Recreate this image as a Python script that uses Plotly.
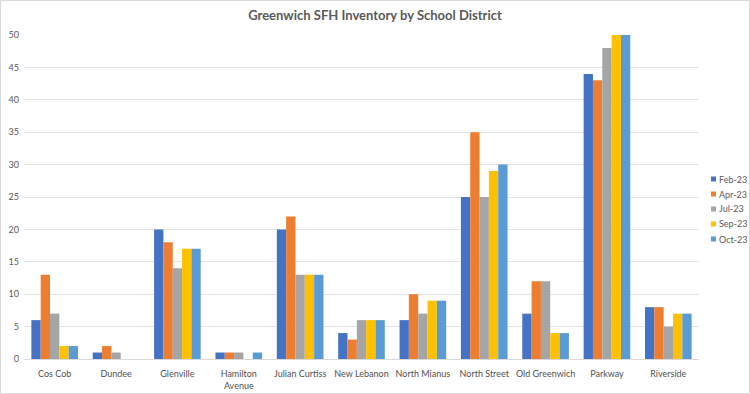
import plotly.graph_objects as go

categories = ["Cos Cob", "Dundee", "Glenville", "Hamilton<br>Avenue", "Julian Curtiss",
              "New Lebanon", "North Mianus", "North Street", "Old Greenwich", "Parkway", "Riverside"]
series_names = ["Feb-23", "Apr-23", "Jul-23", "Sep-23", "Oct-23"]
feb23 = [6, 1, 20, 1, 20, 4, 6, 25, 7, 44, 8]
apr23 = [13, 2, 18, 1, 22, 3, 10, 35, 12, 43, 8]
jul23 = [7, 1, 14, 1, 13, 6, 7, 25, 12, 48, 5]
sep23 = [2, 0, 17, 0, 13, 6, 9, 29, 4, 50, 7]
oct23 = [2, 0, 17, 1, 13, 6, 9, 30, 4, 50, 7]
series_values = [feb23, apr23, jul23, sep23, oct23]
colors = ["#4472C4", "#ED7D31", "#A5A5A5", "#FFC000", "#5B9BD5"]

W, H = 750, 394
L, R, T, B = 24, 51, 35, 35
pw, ph = W - L - R, H - T - B
FONT = "Lato"
GREY = "#595959"

fig = go.Figure()
for name, vals, c in zip(series_names, series_values, colors):
    fig.add_trace(go.Bar(x=categories, y=vals, name=name, marker_color=c,
                         marker_line_width=0, showlegend=False))

# manual legend (compact, like Excel)
shapes = []
annotations = []
for i, (name, c) in enumerate(zip(series_names, colors)):
    yc = 179 + i * 15
    x0 = 711
    shapes.append(dict(type="rect", xref="paper", yref="paper",
                       x0=(x0 - L) / pw, x1=(x0 + 5 - L) / pw,
                       y0=(H - B - (yc + 2.5)) / ph, y1=(H - B - (yc - 2.5)) / ph,
                       fillcolor=c, line_width=0))
    annotations.append(dict(xref="paper", yref="paper", x=(717 - L) / pw,
                            y=(H - B - yc) / ph, text=name, showarrow=False,
                            xanchor="left", yanchor="middle",
                            font=dict(family=FONT, size=9, color=GREY)))

# chart border
shapes.append(dict(type="rect", xref="paper", yref="paper",
                   x0=(0.5 - L) / pw, x1=(W - 0.5 - L) / pw,
                   y0=(H - B - (H - 0.5)) / ph, y1=(H - B - 0.5) / ph,
                   line=dict(color="#D9D9D9", width=1), layer="below"))

fig.update_layout(
    width=W, height=H,
    margin=dict(l=L, r=R, t=T, b=B, autoexpand=False),
    paper_bgcolor="white", plot_bgcolor="white",
    barmode="group", bargap=0.24, bargroupgap=0,
    title=dict(text="<b>Greenwich SFH Inventory by School District</b>",
               x=0.5, xref="container", xanchor="center",
               y=1 - 15 / H, yref="container", yanchor="middle",
               font=dict(family=FONT, size=13, color=GREY)),
    font=dict(family=FONT, color=GREY),
    xaxis=dict(showgrid=False, showline=True, linecolor="#D9D9D9", linewidth=1,
               tickfont=dict(family=FONT, size=9, color="#505050"), ticks="",
               tickangle=0, automargin=False, fixedrange=True,
               ticklabelstandoff=6),
    yaxis=dict(range=[0, 50], dtick=5, showgrid=True, gridcolor="#E3E3E3",
               gridwidth=1, zeroline=False, showline=False, automargin=False,
               tickfont=dict(family=FONT, size=9, color=GREY), ticks="",
               ticklabelstandoff=4),
    shapes=shapes,
    annotations=annotations,
)

fig.write_html("out.html", config={"displayModeBar": False},
               post_script="document.body.style.margin='0';document.body.style.overflow='hidden';")
